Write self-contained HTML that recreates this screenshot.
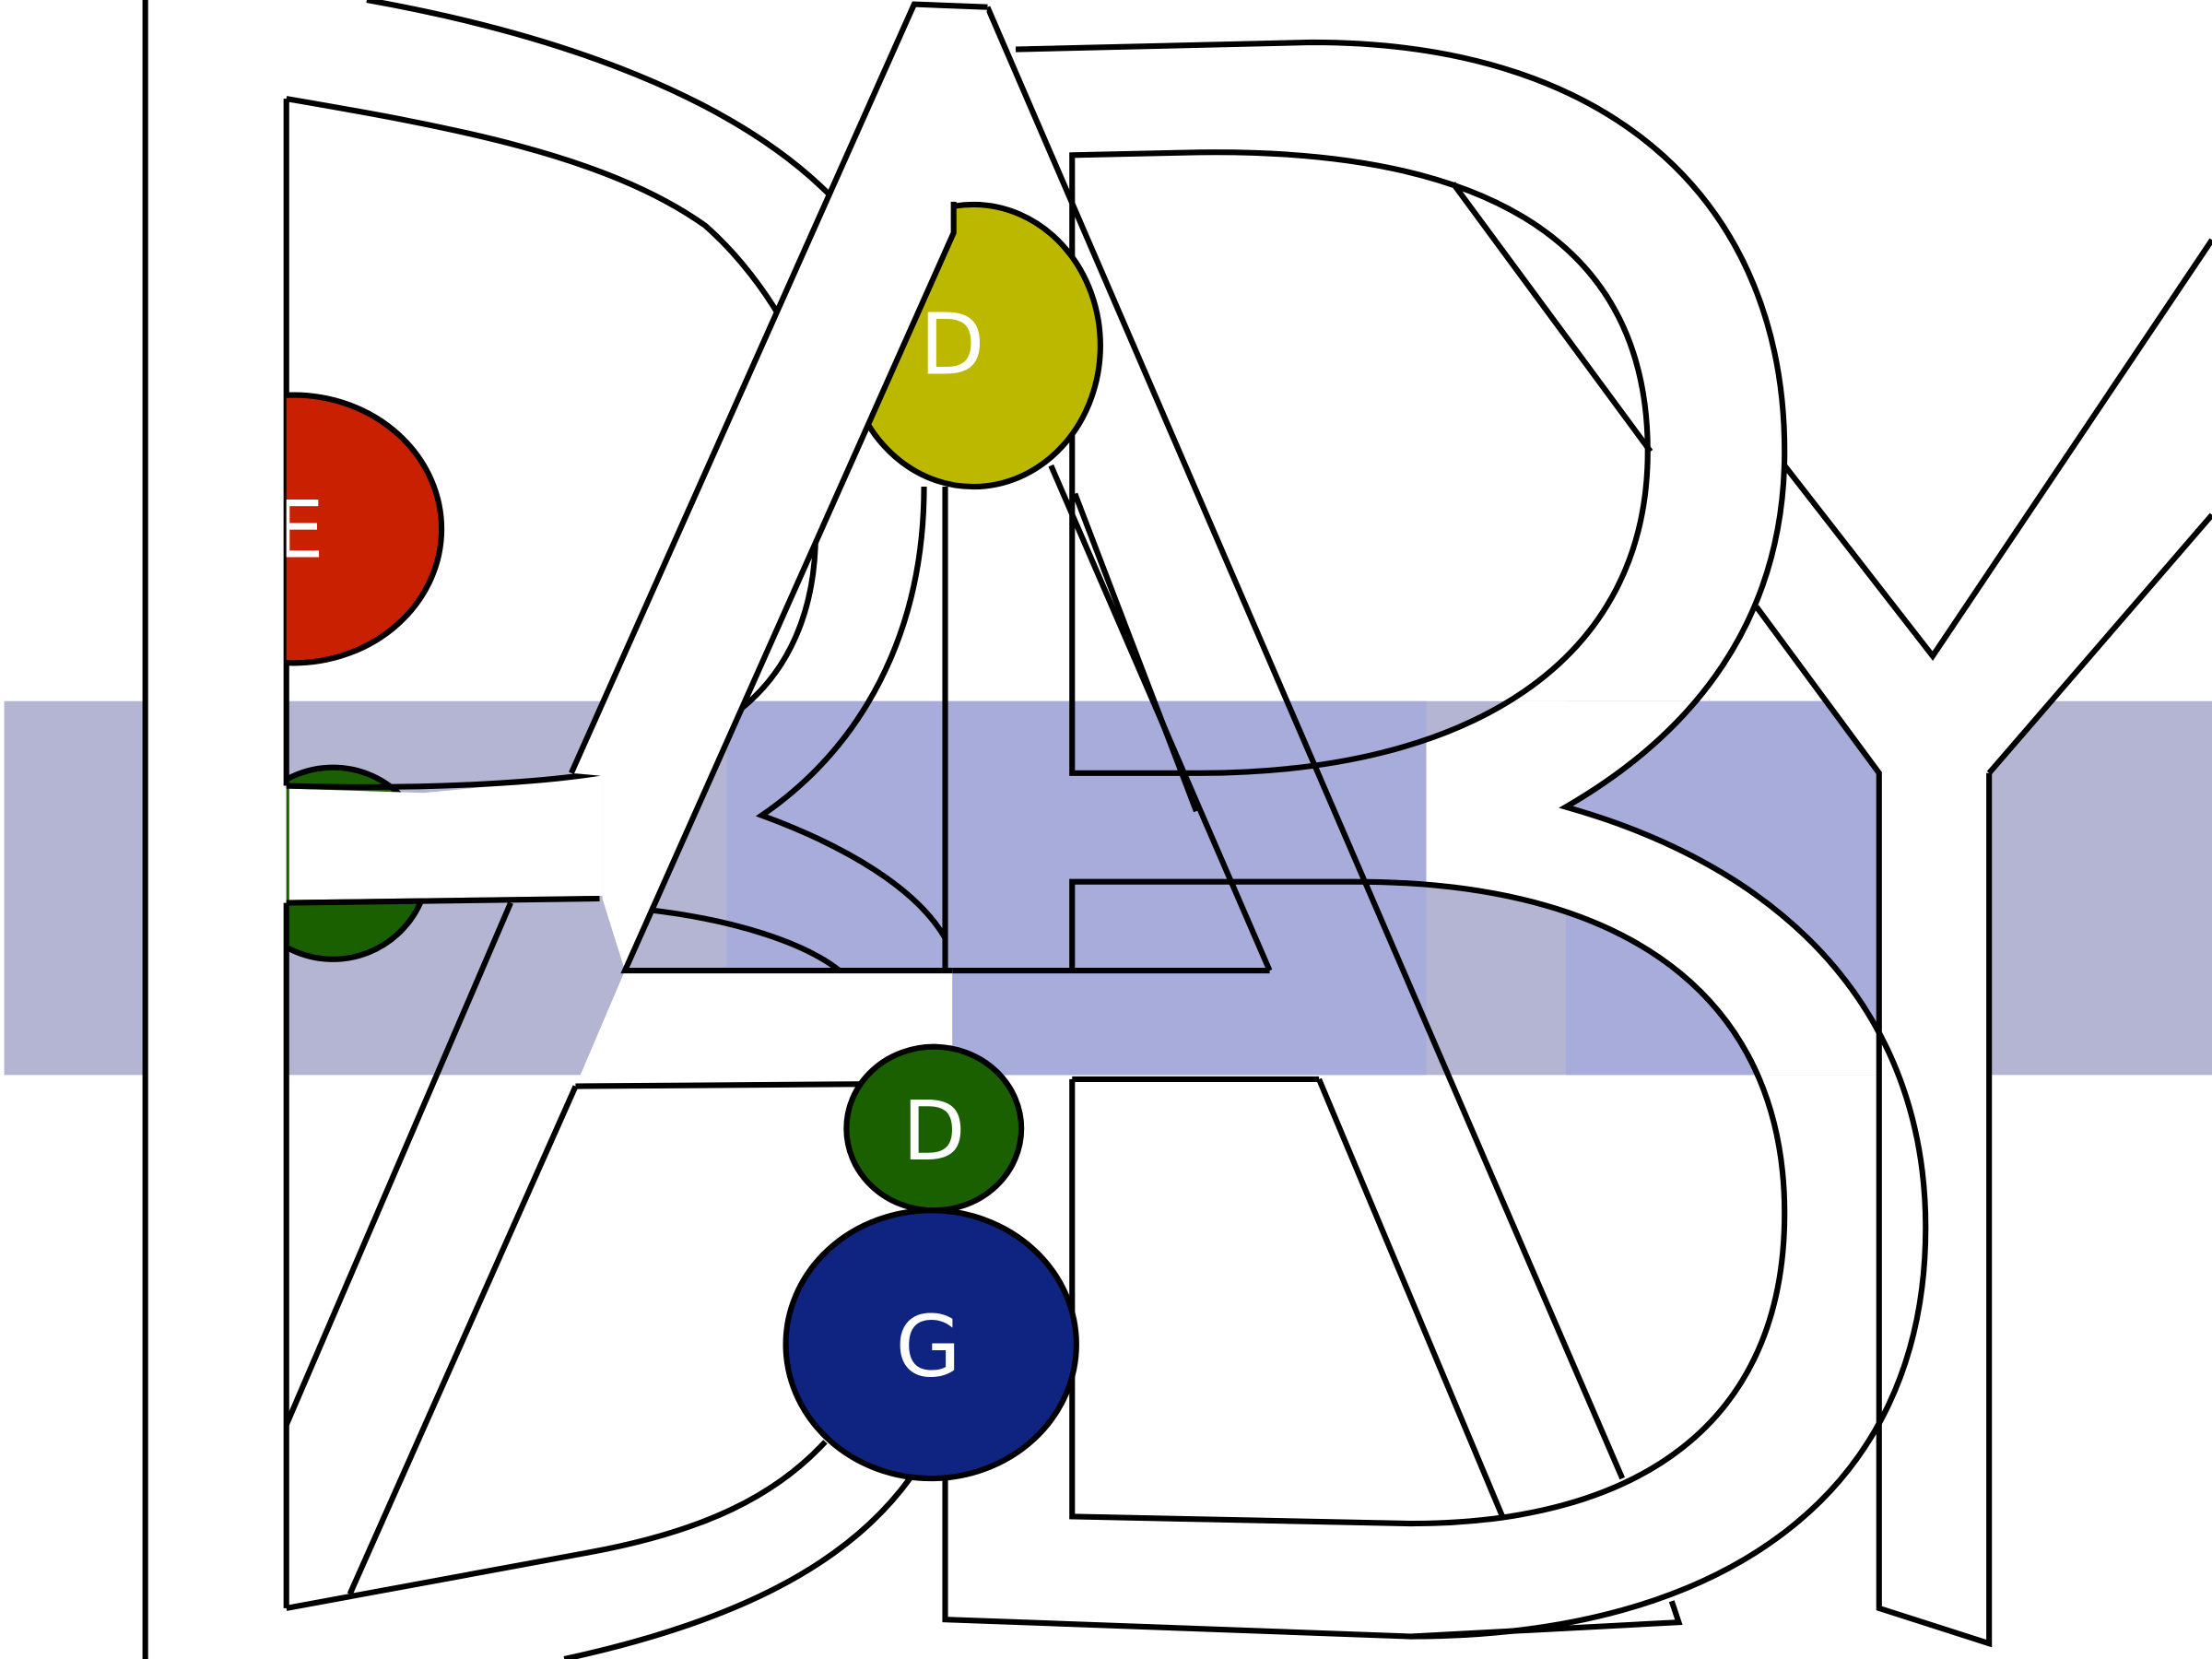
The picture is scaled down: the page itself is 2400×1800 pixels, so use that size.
<!DOCTYPE html>
<html><head><meta charset="utf-8"><style>
html,body{margin:0;padding:0;background:#fff;width:2400px;height:1800px;overflow:hidden}
svg{display:block}
text{font-family:"DejaVu Sans","Liberation Sans",sans-serif;fill:#fff;text-anchor:middle}
</style></head><body>
<svg width="2400" height="1800" viewBox="0 0 1568 1176" preserveAspectRatio="none" xmlns="http://www.w3.org/2000/svg">
<defs>
<clipPath id="cr"><rect x="203" y="0" width="600" height="1176"/></clipPath>
<clipPath id="cb"><rect x="1011" y="497" width="600" height="265"/></clipPath>
</defs>
<rect width="1568" height="1176" fill="#fff"/>
<rect x="3" y="497" width="1565" height="265" fill="#b3b5d3"/>
<rect x="1110" y="497" width="261" height="265" fill="#a7acda"/>
<path clip-path="url(#cb)" fill-rule="evenodd" fill="#fff" d="M670 35 L930 30 C1150 30 1265 150 1265 320 C1265 440 1200 520 1110 572 C1280 620 1365 730 1365 870 C1365 1060 1220 1160 1000 1160 L670 1148 Z M760 110 L850 108 C1080 105 1168 190 1168 320 C1168 470 1040 548 850 548 L760 548 Z M760 625 L960 625 C1170 625 1265 720 1265 860 C1265 1010 1160 1080 1000 1080 L760 1075 Z"/>
<polygon fill="#fff" points="1030,130 1370,465 1568,170 1568,365 1410,548 1410,1165 1332,1140 1332,548 1245,430"/>
<rect x="103" y="0" width="100" height="1176" fill="#fff"/>
<polygon fill="#a7acda" points="515,497 1011,497 1011,762 675,762 675,688 515,688"/>
<g clip-path="url(#cr)">
<circle cx="236" cy="612" r="68" fill="#1a6000" stroke="#000" stroke-width="4"/>
</g>
<polygon fill="#fff" points="205,559 300,562 427,550 427,635 205,638"/>
<g fill="none" stroke="#000" stroke-width="4" stroke-linejoin="miter">
<path d="M103 0 V1176"/>
<path d="M203 70 V557 M203 640 V1140"/>
<path d="M203 557 C300 560 380 555 425 548 M203 640 L425 637"/>
<path d="M203 70 C320 90 430 110 500 160 C525 182 543 208 553 225"/>
<path d="M578 370 C580 430 560 480 515 510"/>
<path d="M260 0 C400 25 520 70 588 138"/>
<path d="M203 1140 L420 1100 C500 1085 550 1060 585 1022"/>
<path d="M400 1176 C520 1150 600 1110 645 1048"/>
<path d="M460 645 C520 652 570 668 595 688"/>
<path d="M655 345 C655 450 610 530 540 578 C600 600 650 630 670 665"/>
<path d="M362 640 L203 1010"/>
<path d="M408 770 L248 1130"/>
<path d="M675 688 L900 688"/>
<path d="M760 765 L935 765"/>
<path d="M745 330 L900 688"/>
<path d="M762 350 L848 575"/>
<path d="M935 765 L1065 1075"/>
<path d="M700 5 L1150 1048"/>
<path d="M720 35 L930 30 C1150 30 1265 150 1265 320 C1265 440 1200 520 1110 572 C1280 620 1365 730 1365 870 C1365 1060 1220 1160 1000 1160 L670 1148 L670 770 M670 688 L670 345"/>
<path d="M1000 1160 L1190 1150 L1185 1135"/>
<path d="M760 110 L850 108 C1080 105 1168 190 1168 320 C1168 470 1040 548 850 548 L760 548 Z"/>
<path d="M760 688 V625 L960 625 C1170 625 1265 720 1265 860 C1265 1010 1160 1080 1000 1080 L760 1075 V765"/>
<path d="M1030 130 L1170 320"/>
<path d="M1265 330 L1370 465 L1568 170"/>
<path d="M1410 548 L1568 365"/>
<path d="M1245 430 L1332 548 V1140 L1410 1165 V548"/>
</g>
<g clip-path="url(#cr)">
<ellipse cx="208" cy="375" rx="105" ry="95" fill="#c82000" stroke="#000" stroke-width="4"/>
<text x="212" y="395" font-size="56">E</text>
</g>
<ellipse cx="690" cy="245" rx="90" ry="100" fill="#bcb800" stroke="#000" stroke-width="4"/>
<text x="675" y="265" font-size="60">D</text>
<!-- A left leg + crossbar on top -->
<polygon fill="#fff" points="648,3 700,5 676,143 676,165 443,688 427,637 427,550 405,548"/>
<polygon fill="#fff" points="443,688 675,688 675,766 408,770"/>
<g fill="none" stroke="#000" stroke-width="4">
<path d="M405 548 L648 3 L700 5"/>
<path d="M676 143 V165 L443 688 L675 688"/>
<path d="M408 770 L675 768"/>
</g>
<ellipse cx="662" cy="800" rx="62" ry="58" fill="#1a6000" stroke="#000" stroke-width="4"/>
<text x="662" y="822" font-size="58">D</text>
<ellipse cx="660" cy="953" rx="103" ry="95" fill="#0f2480" stroke="#000" stroke-width="4"/>
<text x="658" y="975" font-size="60">G</text>
</svg>
</body></html>
